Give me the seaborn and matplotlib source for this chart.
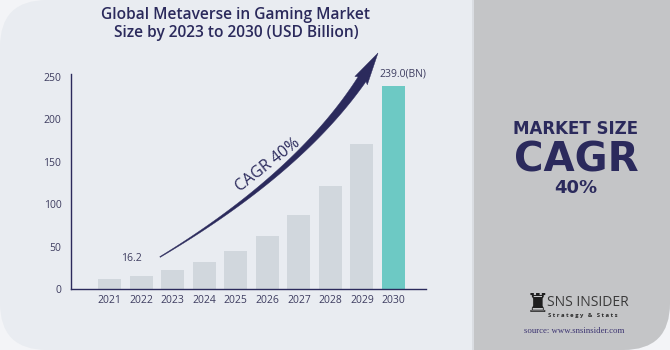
import numpy as np
import pandas as pd
import matplotlib
matplotlib.use("Agg")
import matplotlib.pyplot as plt
import seaborn as sns
from matplotlib.patches import FancyBboxPatch, Rectangle, Polygon

# --- DATA ---
years = ["2021", "2022", "2023", "2024", "2025", "2026", "2027", "2028", "2029", "2030"]
market_size = [11.6, 16.2, 22.7, 31.8, 44.5, 62.3, 87.2, 122.0, 171.0, 239.0]
y_ticks = [0, 50, 100, 150, 200, 250]
start_label = "16.2"
end_label = "239.0(BN)"

# --- CONFIGURATION ---
W, H = 670, 350
NAVY = '#2B2A5C'
TICK = '#3E3D60'
PANEL = '#E9ECF1'
SIDE = '#C4C5C7'
BAR_GRAY = '#D1D7DD'
BAR_TEAL = '#6DC9C4'

sns.set_theme(style="white")
plt.rcParams['font.family'] = ['Open Sans', 'DejaVu Sans']

fig = plt.figure(figsize=(W / 100, H / 100), dpi=100)
fig.patch.set_facecolor('#F3F4F7')


def px(x, y):
    """pixel coords (top-left origin) -> figure fraction"""
    return x / W, 1 - y / H


# background panels
bg = dict(transform=fig.transFigure, edgecolor='none', zorder=-5)
fig.patches.append(FancyBboxPatch((0, 0), 1, 1, boxstyle="round,pad=0,rounding_size=0.07",
                                  mutation_aspect=W / H, facecolor=PANEL, **bg))
fig.patches.append(Rectangle((472 / W, 0), 2 / W, 1, facecolor='#DADDE2', **bg))
fig.patches.append(FancyBboxPatch((474 / W, 0), (W - 474) / W, 1.2,
                                  boxstyle="round,pad=0,rounding_size=0.07",
                                  mutation_aspect=W / H, facecolor=SIDE, **bg))
fig.patches.append(Rectangle((474 / W, 0), 60 / W, 1, facecolor=SIDE, **bg))

# --- BAR CHART ---
ax = fig.add_axes([71 / W, 1 - 289.3 / H, (426 - 71) / W, (289.3 - 74) / H])
ax.set_zorder(1)
ax.set_facecolor('none')

df = pd.DataFrame({'year': years, 'value': market_size})
palette = {y: BAR_GRAY for y in years}
palette[years[-1]] = BAR_TEAL
sns.barplot(data=df, x='year', y='value', hue='year', palette=palette, legend=False,
            width=0.73, saturation=1, linewidth=0, edgecolor='none', ax=ax, zorder=2)

ax.set_xlim(-1.22, len(years) - 1 + 1.03)
ax.set_ylim(0, 253.2)
ax.set_yticks(y_ticks)
ax.set_xlabel("")
ax.set_ylabel("")
ax.tick_params(axis='both', length=0, labelsize=7.5, labelcolor=TICK)
ax.tick_params(axis='y', pad=7)
ax.tick_params(axis='x', pad=4)
for s in ['top', 'right']:
    ax.spines[s].set_visible(False)
for s in ['left', 'bottom']:
    ax.spines[s].set_color(NAVY)
    ax.spines[s].set_linewidth(1.0)

ax.text(1 - 0.3, market_size[1] + 14, start_label, ha='center', va='bottom',
        fontsize=7.5, color=TICK)
ax.text(len(years) - 1 + 0.3, market_size[-1] + 8, end_label, ha='center', va='bottom',
        fontsize=7.5, color=TICK)

# --- CURVED CAGR ARROW (pixel space) ---
P0 = np.array([160.0, 257.0])
C = np.array([318.0, 162.0])
P2 = np.array([378.0, 53.0])
t = np.linspace(0, 0.88, 60)
pts = ((1 - t) ** 2)[:, None] * P0 + (2 * (1 - t) * t)[:, None] * C + (t ** 2)[:, None] * P2
der = (2 * (1 - t))[:, None] * (C - P0) + (2 * t)[:, None] * (P2 - C)
tang = der / np.linalg.norm(der, axis=1)[:, None]
norm = np.stack([-tang[:, 1], tang[:, 0]], axis=1)
half = 0.4 + 4.2 * (t / 0.88) ** 1.2
left = pts + norm * half[:, None]
right = pts - norm * half[:, None]
end = pts[-1]
tn, nn = tang[-1], norm[-1]
head = [end + nn * 7.5 - tn * 2, P2, end - nn * 7.5 - tn * 2, end + tn * 2]
poly = np.vstack([left, head, right[::-1]])
poly_fig = np.array([px(x, y) for x, y in poly])
fig.patches.append(Polygon(poly_fig, closed=True, transform=fig.transFigure,
                           facecolor=NAVY, edgecolor=NAVY, linewidth=0.3, zorder=5))

fig.text(*px(268, 165), "CAGR 40%", rotation=38, ha='center', va='center',
         fontsize=11.5, color=NAVY, rotation_mode='anchor', zorder=6)

# --- TITLE ---
fig.text(*px(236, 24), "Global Metaverse in Gaming Market\nSize by 2023 to 2030 (USD Billion)",
         ha='center', va='center', fontsize=11.2, fontweight='semibold', color=NAVY,
         linespacing=1.2)

# --- SIDE PANEL ---
side_font = ['DejaVu Sans']
fig.text(*px(576, 134.3), "MARKET SIZE", ha='center', va='baseline', fontsize=12,
         fontweight='bold', color=NAVY, family=side_font)
fig.text(*px(576, 171), "CAGR", ha='center', va='baseline', fontsize=29,
         fontweight='bold', color=NAVY, family=side_font)
fig.text(*px(576, 192.7), "40%", ha='center', va='baseline', fontsize=13,
         fontweight='bold', color=NAVY, family=side_font)

# logo + source
fig.text(*px(537, 305), "\u265C", ha='center', va='center', fontsize=19,
         color='#1E1E1E', family='DejaVu Sans')
fig.text(*px(547, 303), "SNS INSIDER", ha='left', va='center', fontsize=10,
         color='#3A3A3A')
fig.text(*px(548, 315), "S t r a t e g y   &   S t a t s", ha='left', va='center',
         fontsize=4.2, fontweight='bold', color='#2A2A2A')
fig.text(*px(574, 331), "source: www.snsinsider.com", ha='center', va='center',
         fontsize=6.3, color='#3A3270', family=['Liberation Serif', 'DejaVu Serif'])

plt.savefig("out.png", dpi=100, facecolor=fig.get_facecolor())
plt.close()
